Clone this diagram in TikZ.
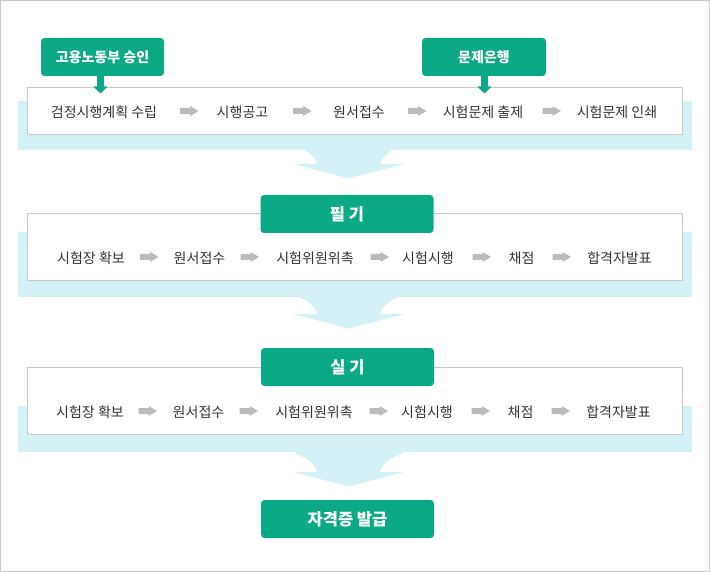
\documentclass[tikz,border=0pt]{standalone}
\usepackage{fontspec}
\setmainfont{Noto Sans CJK KR}
\usetikzlibrary{arrows.meta}
\definecolor{grn}{HTML}{0BA986}
\definecolor{cyanband}{HTML}{D3F1F6}
\definecolor{arrgray}{HTML}{BBBBBB}
\definecolor{boxgray}{HTML}{C8C8C8}
\definecolor{txt}{HTML}{333333}
\tikzset{
  rowtext/.style={text=txt, inner sep=0pt, font=\fontsize{14}{16}\selectfont},
  gbox/.style={fill=grn, rounded corners=3.5pt, text=white, inner sep=0pt,
    minimum height=38pt, font=\bfseries\fontsize{14}{16}\selectfont},
  hbox/.style={gbox, minimum width=173pt, font=\bfseries\fontsize{16.5}{18}\selectfont},
  wbox/.style={draw=boxgray, fill=white, line width=1pt},
  band/.style={fill=cyanband},
  garr/.pic={\fill[arrgray] (-9.5,-3) -- (0.5,-3) -- (0.5,-5) -- (9,0) -- (0.5,5) -- (0.5,3) -- (-9.5,3) -- cycle;},
  funnel/.pic={\fill[cyanband] (-53,-21) -- (-53,-18) .. controls (-43,-15) and (-34,-8) .. (-32,0) -- (-56,0) -- (0,14.5) -- (55,0) -- (31,0) .. controls (33,-8) and (42,-15) .. (53,-18) -- (53,-21) -- cycle;},
  gdown/.style={draw=grn, line width=7pt, -{Triangle[width=14pt,length=7pt]}}
}
\begin{document}
\begin{tikzpicture}[x=1pt,y=-1pt]
\useasboundingbox (0,0) rectangle (710,572);
\fill[white] (0,0) rectangle (710,572);
\draw[boxgray, line width=1pt] (0.5,0.5) rectangle (709.5,571.5);

% ---------- section 1 ----------
\fill[band] (18,101) rectangle (692,150);
\pic at (349,164) {funnel};
\draw[wbox] (27.5,87.5) rectangle (682.5,134.5);

\node[gbox, minimum width=123pt] (moel) at (102.5,57) {고용노동부 승인};
\node[gbox, minimum width=124pt] (bank) at (484,57) {문제은행};
\coordinate (t1) at (100.5,93.5);
\coordinate (t2) at (484.5,93.5);
\draw[gdown] (moel.south -| t1) -- (t1);
\draw[gdown] (bank.south -| t2) -- (t2);

\node[rowtext] (a1) at (104,112) {검정시행계획 수립};
\node[rowtext] (a2) at (242.5,112) {시행공고};
\node[rowtext] (a3) at (359,112) {원서접수};
\node[rowtext] (a4) at (483,112) {시험문제 출제};
\node[rowtext] (a5) at (617,112) {시험문제 인쇄};
\pic at (189.5,111) {garr};
\pic at (302.5,111) {garr};
\pic at (417.5,111) {garr};
\pic at (552,111) {garr};

% ---------- section 2 ----------
\fill[band] (18,232) rectangle (692,297);
\pic at (349,314) {funnel};
\draw[wbox] (27.5,213.5) rectangle (682.5,280.5);
\node[hbox] (written) at (347,214) {필 기};

\node[rowtext] (b1) at (91,258) {시험장 확보};
\node[rowtext] (b2) at (199.5,258) {원서접수};
\node[rowtext] (b3) at (315,258) {시험위원위촉};
\node[rowtext] (b4) at (428,258) {시험시행};
\node[rowtext] (b5) at (521.5,258) {채점};
\node[rowtext] (b6) at (619.5,258) {합격자발표};
\pic at (149.5,257) {garr};
\pic at (250,257) {garr};
\pic at (380,257) {garr};
\pic at (482,257) {garr};
\pic at (562,257) {garr};

% ---------- section 3 ----------
\fill[band] (18,406) rectangle (692,452);
\pic at (349,472) {funnel};
\draw[wbox] (27.5,367.5) rectangle (682.5,434.5);
\node[hbox] (practical) at (347.5,367) {실 기};

\node[rowtext] (c1) at (90,412) {시험장 확보};
\node[rowtext] (c2) at (198.5,412) {원서접수};
\node[rowtext] (c3) at (314,412) {시험위원위촉};
\node[rowtext] (c4) at (427,412) {시험시행};
\node[rowtext] (c5) at (520.5,412) {채점};
\node[rowtext] (c6) at (618.5,412) {합격자발표};
\pic at (148,411) {garr};
\pic at (249,411) {garr};
\pic at (379,411) {garr};
\pic at (481,411) {garr};
\pic at (561,411) {garr};

% ---------- final ----------
\node[hbox] (cert) at (347.5,519) {자격증 발급};
\end{tikzpicture}
\end{document}
